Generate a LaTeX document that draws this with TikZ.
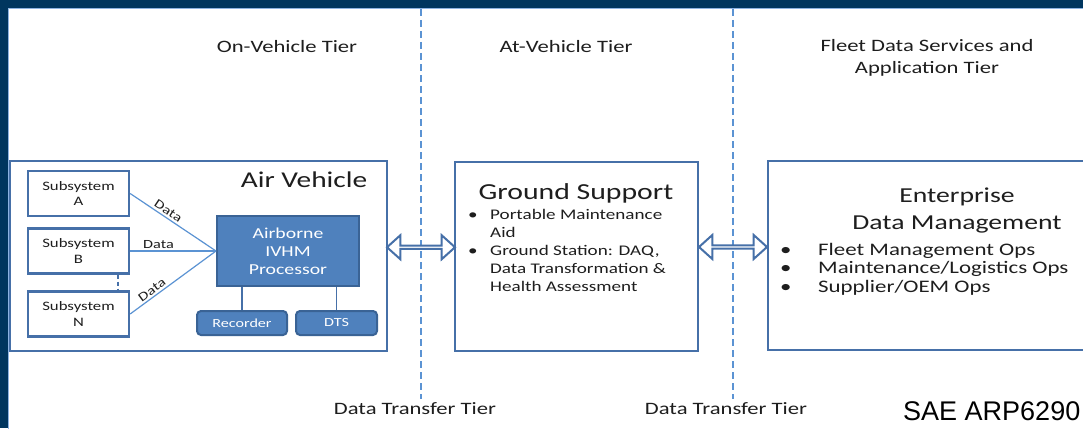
\documentclass[tikz,border=0pt]{standalone}
\usepackage{fontspec}
\setmainfont{Carlito}[FakeStretch=1.3]
\newfontfamily\saefont{Liberation Sans}
\usetikzlibrary{shapes.arrows,calc}
\definecolor{navy}{HTML}{00365F}
\definecolor{edgelight}{HTML}{8DB3E2}
\definecolor{boxblue}{HTML}{4670A8}
\definecolor{procfill}{HTML}{4F81BD}
\definecolor{procedge}{HTML}{3A6395}
\definecolor{dashblue}{HTML}{5B93D3}
\definecolor{txt}{HTML}{1E1E1E}
\newcommand{\fs}[2]{\fontsize{#1}{#2}\selectfont}
\tikzset{
  tierlabel/.style={font=\fs{17.4}{22}, text=txt, align=center, inner sep=0},
  tierline/.style={draw=dashblue, line width=1.8, dash pattern=on 7pt off 4pt},
  bigbox/.style={draw=boxblue, line width=2.5, fill=white, inner sep=0},
  subbox/.style={draw=boxblue, line width=2.3, fill=white, minimum width=101, minimum height=45, font=\fs{12.9}{15.5}, text=txt, align=center, inner sep=0},
  proc/.style={draw=procedge, line width=2, fill=procfill, minimum width=142, minimum height=70, font=\fs{15.2}{18}, text=white, align=center, inner sep=0},
  small/.style={draw=procedge, line width=2, fill=procfill, rounded corners=4, minimum height=24, font=\fs{12.4}{14}, text=white, inner sep=0},
  dataline/.style={draw=dashblue, line width=1.2},
  datalbl/.style={font=\fs{12.5}{14}, text=txt, inner sep=2},
  titlelbl/.style={text=txt, inner sep=0, align=center},
  dblarrow/.style={double arrow, draw=boxblue, fill=white, line width=2, minimum width=24, double arrow head extend=6, double arrow tip angle=84, minimum height=68, inner sep=0},
}
\begin{document}
\begin{tikzpicture}[x=1pt,y=-1pt]
\clip (0,0) rectangle (1083,428);
\fill[navy] (0,0) rectangle (1083,428);
\fill[white] (9,9) rectangle (1090,440);
\draw[edgelight, line width=1.4] (8.7,440) -- (8.7,8.7) -- (1090,8.7);

% tier separators
\coordinate (s1t) at (421,9);
\coordinate (s1b) at (421,399);
\coordinate (s2t) at (733,9);
\coordinate (s2b) at (733,399);
\draw[tierline] (s1t) -- (s1b);
\draw[tierline] (s2t) -- (s2b);

% tier labels
\node[tierlabel] (t1) at (287,47) {On-Vehicle Tier};
\node[tierlabel] (t2) at (566,47) {At-Vehicle Tier};
\node[tierlabel] (t3) at (927,58) {Fleet Data Services and\\Application Tier};
\node[tierlabel] (d1) at (415,409) {Data Transfer Tier};
\node[tierlabel] (d2) at (726,409) {Data Transfer Tier};

% Air vehicle
\node[bigbox, minimum width=377, minimum height=190] (av) at (198.5,256) {};
\node[titlelbl, font=\fs{22.6}{26}] (avt) at (304,180) {Air Vehicle};
\node[subbox] (sa) at (78.5,193.5) {Subsystem\\A};
\node[subbox] (sb) at (78.5,251) {Subsystem\\B};
\node[subbox] (sn) at (78.5,314) {Subsystem\\N};
\node[proc] (proc) at (288,251) {Airborne\\IVHM\\Processor};
\node[small, minimum width=90] (rec) at (242,323) {Recorder};
\node[small, minimum width=81] (dts) at (336.5,323) {DTS};

\draw[dataline] (sa.east) -- node[datalbl, sloped, above, pos=0.4] {Data} (proc.west);
\draw[dataline] (sb.east) -- node[datalbl, above, pos=0.33] {Data} (proc.west);
\draw[dataline] (sn.east) -- node[datalbl, sloped, above, pos=0.3] {Data} (proc.west);
\draw[boxblue, line width=1.8, dash pattern=on 4pt off 3pt] ([xshift=39.5]sb.south) -- ([xshift=39.5]sn.north);
\draw[dataline, draw=boxblue] (rec.north) -- (rec.north |- proc.south);
\draw[dataline, draw=boxblue] (dts.north) -- (dts.north |- proc.south);

% Ground support
\node[bigbox, minimum width=243, minimum height=189] (gs) at (576.5,256.5) {};
\node[titlelbl, font=\fs{22.9}{26}] (gst) at (576,193) {Ground Support};
\node[anchor=north west, inner sep=0, text=txt, font=\fs{14.7}{18}] (gsl) at (468,207) {%
\begin{tabular}{@{}l@{}l@{}}
\makebox[22pt][l]{\textbullet} & Portable Maintenance\\
 & Aid\\
\makebox[22pt][l]{\textbullet} & Ground Station: DAQ,\\
 & Data Transformation \&\\
 & Health Assessment
\end{tabular}};

% Enterprise
\node[bigbox, minimum width=322, minimum height=189] (ent) at (929,255.5) {};
\node[titlelbl, font=\fs{21.3}{27}] (entt) at (957,210.5) {Enterprise\\Data Management};
\node[anchor=north west, inner sep=0, text=txt, font=\fs{17.6}{18.5}] (entl) at (780,242) {%
\begin{tabular}{@{}l@{}l@{}}
\makebox[38pt][l]{\textbullet} & Fleet Management Ops\\
\makebox[38pt][l]{\textbullet} & Maintenance/Logistics Ops\\
\makebox[38pt][l]{\textbullet} & Supplier/OEM Ops
\end{tabular}};

% transfer arrows
\node[dblarrow] (a1) at ($(av.east)!0.5!(gs.west)+(0,-9)$) {};
\node[dblarrow] (a2) at ($(gs.east)!0.5!(ent.west)+(0,-9)$) {};

% source
\node[anchor=base west, inner sep=0, font=\saefont\fs{27}{30}, text=black] (sae) at (903,420) {SAE ARP6290};
\end{tikzpicture}
\end{document}
